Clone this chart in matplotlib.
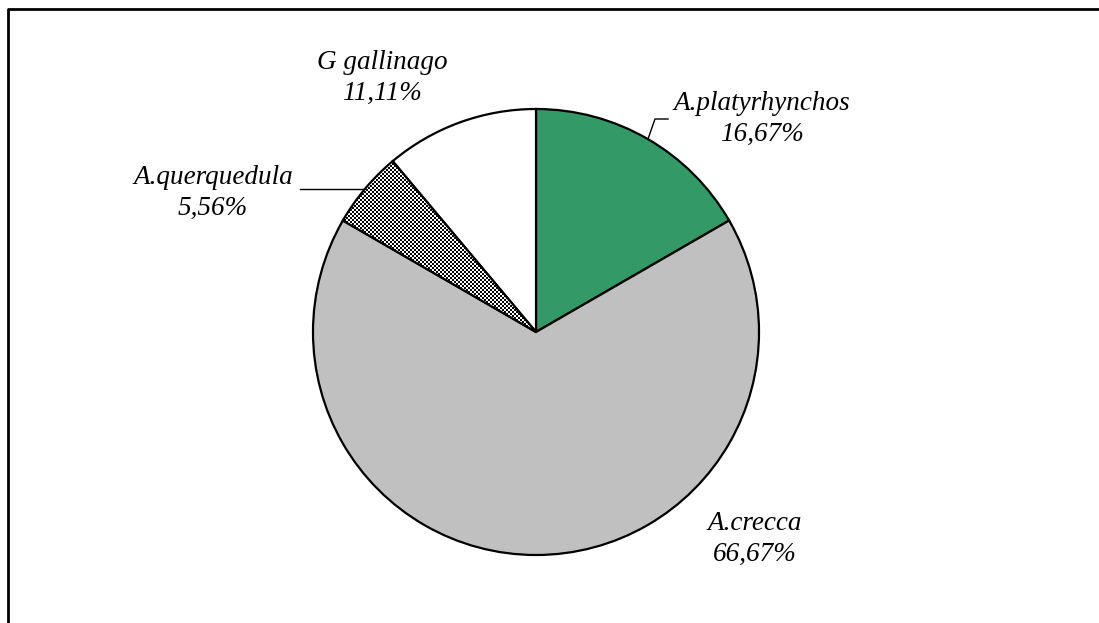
import numpy as np
import matplotlib
matplotlib.use("Agg")
import matplotlib.pyplot as plt

# species share of the bag, clockwise from 12 o'clock
species = ["A.platyrhynchos", "A.crecca", "A.querquedula", "G gallinago"]
shares = [16.67, 66.67, 5.56, 11.11]
colors = ["#339966", "#c0c0c0", "white", "white"]

W, H = 1099, 623
fig = plt.figure(figsize=(W / 100, H / 100), dpi=100)
ax = fig.add_axes([0, 0, 1, 1])


def py(y):
    # pixel row from the top -> data y
    return H - y


cx, cy, r = 536, py(332), 223
wedges, _ = ax.pie(shares, colors=colors, startangle=90, counterclock=False,
                   center=(cx, cy), radius=r, frame=True,
                   wedgeprops=dict(edgecolor="black", linewidth=1.6))
ax.set_xlim(0, W)
ax.set_ylim(0, H)
ax.set_aspect("equal")
ax.axis("off")

# checker texture for the querquedula slice
n = 2
checker = (np.indices((H // n + 1, W // n + 1)).sum(axis=0) % 2).astype(float)
img = ax.imshow(checker, cmap="gray", extent=(0, (W // n + 1) * n, 0, (H // n + 1) * n),
                interpolation="nearest", zorder=wedges[2].get_zorder() + 0.1)
img.set_clip_path(wedges[2])
wedges[2].set_zorder(wedges[2].get_zorder() + 0.2)
wedges[2].set_facecolor("none")

font = dict(family="Liberation Serif", style="italic", fontsize=19.5,
            ha="center", va="center", linespacing=1.32)
labels = {
    "A.platyrhynchos": (762, 119),
    "A.crecca": (755, 539),
    "A.querquedula": (213, 193),
    "G gallinago": (382, 78),
}
for name, val in zip(species, shares):
    x, y = labels[name]
    pct = f"{val:.2f}".replace(".", ",") + "%"
    ax.text(x, py(y), name + "\n" + pct, **font)

# leader lines
ax.plot([668, 655, 648], [py(119), py(119), py(139)], color="black", lw=1)
ax.plot([300, 363], [py(189), py(189)], color="black", lw=1)

# outer frame (top and left edges)
ax.plot([8, 8, W + 5], [-5, py(9), py(9)], color="black", lw=2, solid_capstyle="butt")

fig.savefig("out.png", dpi=100)
